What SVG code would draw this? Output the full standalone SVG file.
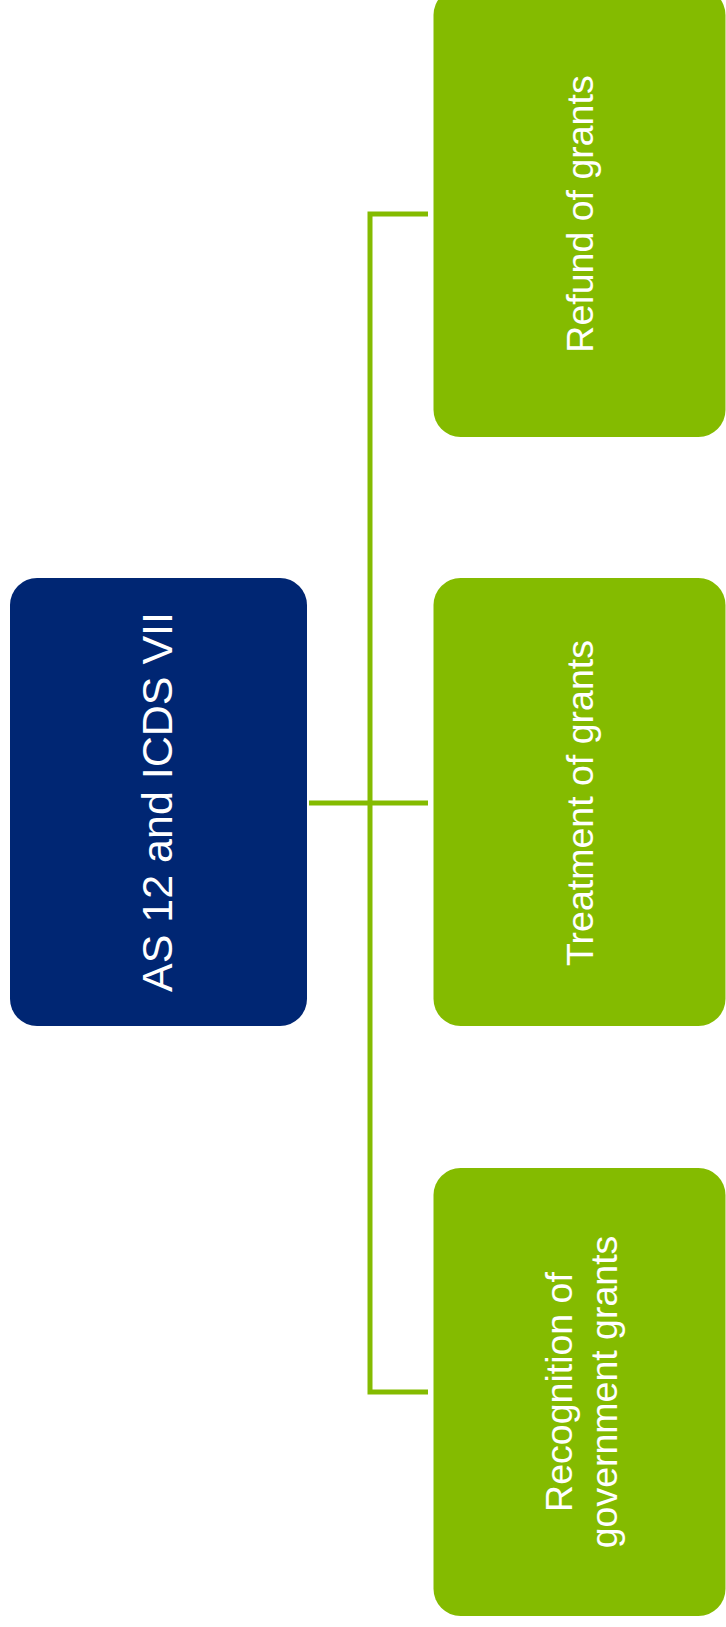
<svg xmlns="http://www.w3.org/2000/svg" width="726" height="1627" viewBox="0 0 726 1627">
  <style>
    .blue { fill: #002673; }
    .green { fill: #84BB00; }
    .conn { fill: none; stroke: #84BB00; stroke-width: 5; stroke-linejoin: miter; }
    .t { font-family: "Liberation Sans", Arial, sans-serif; fill: #ffffff; text-anchor: middle; }
  </style>
  <rect x="0" y="0" width="726" height="1627" fill="#ffffff"/>
  <g id="connectors">
    <path class="conn" d="M 309 803 H 428"/>
    <path class="conn" d="M 428 214 H 370 V 1392 H 428"/>
  </g>
  <g id="root">
    <rect class="blue" x="10" y="578" width="297" height="448" rx="27" ry="27"/>
    <text class="t" font-size="43" transform="translate(172,802) rotate(-90)">AS 12 and ICDS VII</text>
  </g>
  <g id="refund">
    <rect class="green" x="433.5" y="-12" width="292" height="449" rx="27" ry="27"/>
    <text class="t" font-size="37.5" transform="translate(593,214) rotate(-90)">Refund of grants</text>
  </g>
  <g id="treatment">
    <rect class="green" x="433.5" y="578" width="292" height="448" rx="27" ry="27"/>
    <text class="t" font-size="37.5" transform="translate(593,803) rotate(-90)">Treatment of grants</text>
  </g>
  <g id="recognition">
    <rect class="green" x="433.5" y="1168" width="292" height="448" rx="27" ry="27"/>
    <text class="t" font-size="37.5" transform="translate(572,1392) rotate(-90)">Recognition of</text>
    <text class="t" font-size="37.5" transform="translate(617,1392) rotate(-90)">government grants</text>
  </g>
</svg>
